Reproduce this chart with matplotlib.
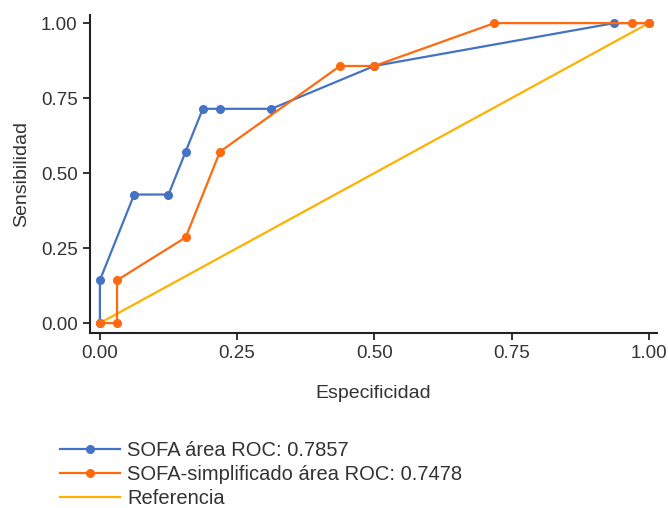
import matplotlib
matplotlib.use("Agg")
import matplotlib.pyplot as plt
from matplotlib.lines import Line2D

plt.rcParams["font.family"] = ["Liberation Sans", "DejaVu Sans"]

# ── Data ───────────────────────────────────────────────────────
sofa_x = [0, 0, 0.0625, 0.125, 0.15625, 0.1875, 0.21875, 0.3125, 0.5, 0.9375, 1.0]
sofa_y = [0, 0.1429, 0.4286, 0.4286, 0.5714, 0.7143, 0.7143, 0.7143, 0.8571, 1.0, 1.0]

simp_x = [0, 0.03125, 0.03125, 0.15625, 0.21875, 0.4375, 0.5, 0.71875, 0.96875, 1.0]
simp_y = [0, 0, 0.1429, 0.2857, 0.5714, 0.8571, 0.8571, 1.0, 1.0, 1.0]

ref_x = [0, 1]
ref_y = [0, 1]

ticks = [0.00, 0.25, 0.50, 0.75, 1.00]
labels = ["SOFA área ROC: 0.7857",
          "SOFA-simplificado área ROC: 0.7478",
          "Referencia"]

BLUE   = "#4472C4"
ORANGE = "#FF6A0F"
YELLOW = "#FFB000"
TXT    = "#333333"

# ── Plot ───────────────────────────────────────────────────────
fig = plt.figure(figsize=(6.68, 5.08), dpi=100)
ax = fig.add_axes([90 / 668, 1 - 333 / 508, 567 / 668, 318 / 508])

ax.plot(ref_x, ref_y, color=YELLOW, lw=1.6, zorder=2)
ax.plot(sofa_x, sofa_y, color=BLUE, lw=1.6, marker="o", ms=5.5, zorder=3)
ax.plot(simp_x, simp_y, color=ORANGE, lw=1.6, marker="o", ms=5.5, zorder=4)

ax.set_xlim(-0.018, 1.015)
ax.set_ylim(-0.033, 1.027)
ax.set_xticks(ticks)
ax.set_yticks(ticks)
ax.set_xticklabels([f"{t:.2f}" for t in ticks])
ax.set_yticklabels([f"{t:.2f}" for t in ticks])

for s in ["top", "right"]:
    ax.spines[s].set_visible(False)
for s in ["left", "bottom"]:
    ax.spines[s].set_linewidth(1.5)
    ax.spines[s].set_color("#222222")
ax.tick_params(length=5, width=1.3, color="#222222", labelsize=13.5,
               labelcolor=TXT, pad=4)

ax.set_xlabel("Especificidad", fontsize=14, color=TXT, labelpad=16)
ax.set_ylabel("Sensibilidad", fontsize=14, color=TXT, labelpad=8)

handles = [
    Line2D([], [], color=BLUE, lw=1.6, marker="o", ms=5.5),
    Line2D([], [], color=ORANGE, lw=1.6, marker="o", ms=5.5),
    Line2D([], [], color=YELLOW, lw=1.6),
]
fig.legend(handles, labels, loc="upper left", bbox_to_anchor=(60 / 668, 1 - 441 / 508),
           frameon=False, fontsize=14.5, labelcolor=TXT, handlelength=3.0,
           handletextpad=0.35, labelspacing=0.25, borderaxespad=0, borderpad=0)

fig.savefig("out.png", dpi=100)
